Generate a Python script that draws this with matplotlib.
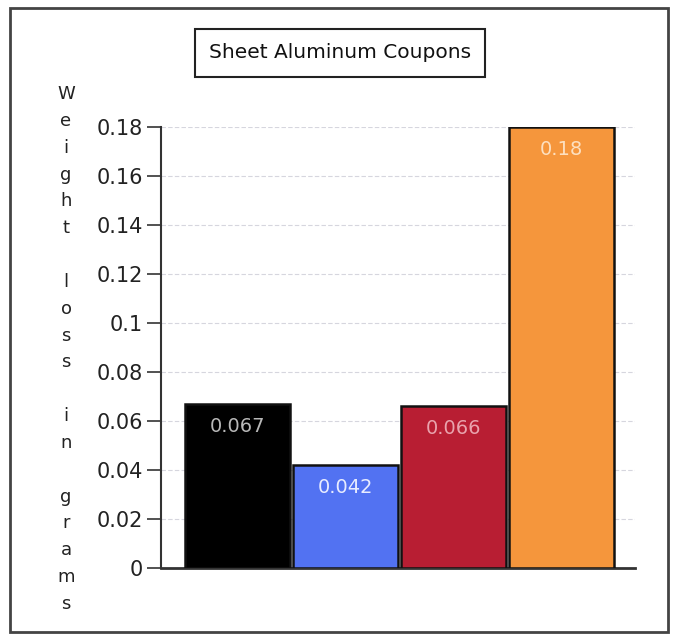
import matplotlib
matplotlib.use("Agg")
import matplotlib.pyplot as plt
from matplotlib.patches import Rectangle

categories = ["A", "B", "C", "D"]
values = [0.067, 0.042, 0.066, 0.18]
value_labels = ["0.067", "0.042", "0.066", "0.18"]
bar_colors = ["#000000", "#5272f2", "#b81e33", "#f5963c"]
label_colors = ["#b8b8b8", "#e8ecff", "#e9a3ad", "#fde0c0"]
yticks = [0, 0.02, 0.04, 0.06, 0.08, 0.1, 0.12, 0.14, 0.16, 0.18]
ytick_labels = ["0", "0.02", "0.04", "0.06", "0.08", "0.1", "0.12", "0.14", "0.16", "0.18"]
title = "Sheet Aluminum Coupons"
ylabel = "Weight loss in grams"

fig = plt.figure(figsize=(6.76, 6.35), dpi=100)
fig.patch.set_facecolor("white")

# outer frame
fig.add_artist(Rectangle((10/676, 1-632/635), (668-10)/676, (632-8)/635,
                         transform=fig.transFigure, fill=False,
                         edgecolor="#444444", linewidth=2))

ax = fig.add_axes([161/676, 1-568/635, (635-161)/676, (568-127)/635])
x = list(range(len(categories)))
bars = ax.bar(x, values, width=0.975, color=bar_colors, edgecolor="#111111",
              linewidth=1.8, zorder=3)
ax.set_xlim(-0.71, 3.68)
ax.set_ylim(0, 0.18)
ax.set_yticks(yticks)
ax.set_yticklabels(ytick_labels, fontsize=15, color="#222222")
ax.set_xticks([])
ax.grid(axis="y", color="#d6d6de", linestyle=(0, (4, 2)), linewidth=0.8, zorder=0)
for s in ["top", "right"]:
    ax.spines[s].set_visible(False)
ax.spines["left"].set_color("#333333")
ax.spines["bottom"].set_color("#333333")
ax.spines["left"].set_linewidth(1.5)
ax.spines["bottom"].set_linewidth(2)
ax.tick_params(axis="y", direction="out", length=10, width=1.2, color="#333333", pad=3)

for xi, v, lab, c in zip(x, values, value_labels, label_colors):
    ax.annotate(lab, (xi, v), xytext=(0, -16), textcoords="offset points",
                ha="center", va="center", fontsize=14, color=c, zorder=4)

fig.text(340/676, 1-53/635, title, ha="center", va="center", fontsize=14.5,
         color="#111111",
         bbox=dict(boxstyle="square,pad=0.7", facecolor="white",
                   edgecolor="#222222", linewidth=1.5))

fig.text(66/676, 1-349/635, "\n".join(list(ylabel)), ha="center", va="center",
         fontsize=13, color="#222222", linespacing=1.63)

fig.savefig("out.png", dpi=100)
